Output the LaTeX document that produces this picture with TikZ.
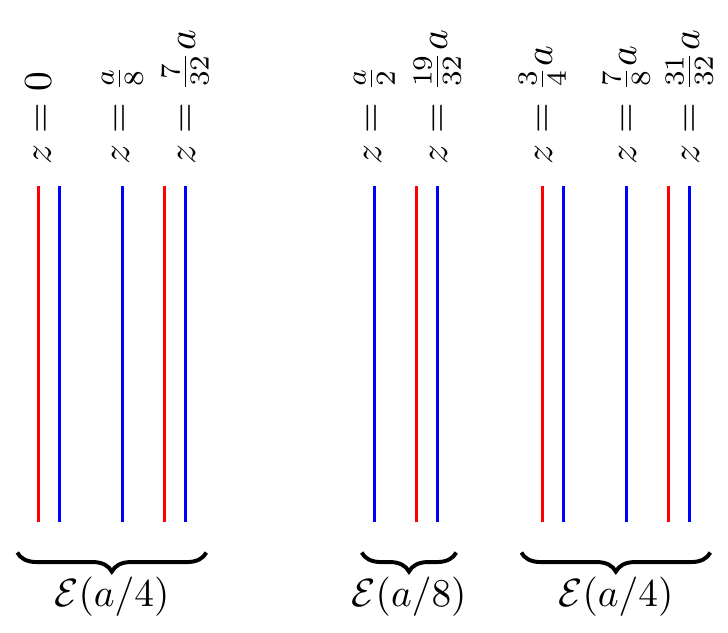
\documentclass[tikz,border=0pt]{standalone}
\usepackage{tikz}
\usetikzlibrary{decorations.pathreplacing}
\tikzset{
	redline/.style={draw=red, line width=0.7pt},
	blueline/.style={draw=blue, line width=0.7pt},
	zlabel/.style={rotate=90, anchor=west, inner sep=0pt},
	sectbrace/.style={decorate, decoration={brace, mirror, amplitude=0.17cm}, line width=1pt},
}

\begin{document}
\begin{tikzpicture}[x=0.1875cm]
				\useasboundingbox (-1.824, 0) rectangle (32.84, 5.643);
				
				\draw[redline] (0, 0.98) -- (0, 3.98);
				\draw[blueline] (1, 0.98) -- (1, 3.98);
				\draw[blueline] (4, 0.98) -- (4, 3.98);
				\draw[redline] (6, 0.98) -- (6, 3.98);
				\draw[blueline] (7, 0.98) -- (7, 3.98);
				
				\draw[blueline] (16, 0.98) -- (16, 3.98);
				\draw[redline] (18, 0.98) -- (18, 3.98);
				\draw[blueline] (19, 0.98) -- (19, 3.98);
				
				\draw[redline] (24, 0.98) -- (24, 3.98);
				\draw[blueline] (25, 0.98) -- (25, 3.98);
				\draw[blueline] (28, 0.98) -- (28, 3.98);
				\draw[redline] (30, 0.98) -- (30, 3.98);
				\draw[blueline] (31, 0.98) -- (31, 3.98);
				
				\node[zlabel] (z0) at (0, 4.17) {$z=0$};
				\node[zlabel] (z4) at (4, 4.17) {$z=\frac{a}{8}$};
				\node[zlabel] (z7) at (7, 4.17) {$z=\frac{7}{32}a$};
				\node[zlabel] (z16) at (16, 4.17) {$z=\frac{a}{2}$};
				\node[zlabel] (z19) at (19, 4.17) {$z=\frac{19}{32}a$};
				\node[zlabel] (z24) at (24, 4.17) {$z=\frac{3}{4}a$};
				\node[zlabel] (z28) at (28, 4.17) {$z=\frac{7}{8}a$};
				\node[zlabel] (z31) at (31, 4.17) {$z=\frac{31}{32}a$};
				
				\draw[sectbrace] (-1, 0.71) -- (8, 0.71);
				\draw[sectbrace] (15.4, 0.71) -- (19.9, 0.71);
				\draw[sectbrace] (23, 0.71) -- (32, 0.71);
				
				\node (e1) at (3.5, 0.3125) {$\mathcal{E}(a/4)$};
				\node (e2) at (17.65, 0.3125) {$\mathcal{E}(a/8)$};
				\node (e3) at (27.5, 0.3125) {$\mathcal{E}(a/4)$};
			\end{tikzpicture}
\end{document}
